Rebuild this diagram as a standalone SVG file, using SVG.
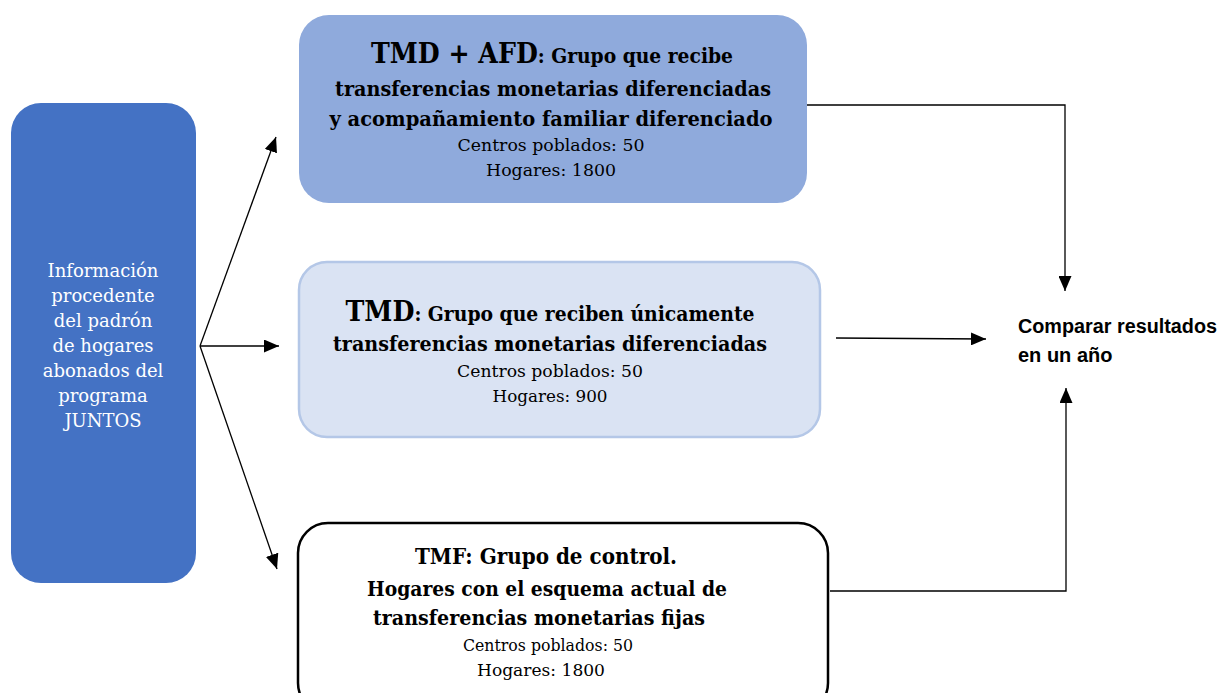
<svg xmlns="http://www.w3.org/2000/svg" width="1230" height="693" viewBox="0 0 1230 693">
<defs>
<marker id="ah" markerWidth="15" markerHeight="13" refX="15" refY="6.5" orient="auto" markerUnits="userSpaceOnUse">
<path d="M0,0 L15,6.5 L0,13 Z" fill="#000"/>
</marker>
<style>
.ser{font-family:"DejaVu Serif","Liberation Serif",serif;text-anchor:middle;fill:#000}
.b{font-weight:bold}
.big{font-size:27px}
.mid{font-size:20px}
.sm{font-size:17.5px}
.left{font-size:18px;fill:#fff}
.conn{fill:none;stroke:#000;stroke-width:1.3}
.cmp{font-family:"Liberation Sans","Open Sans",sans-serif;font-weight:bold;font-size:20px;fill:#000}
</style>
</defs>
<rect width="1230" height="693" fill="#fff"/>
<g id="source">
<rect x="11" y="103" width="185" height="480" rx="30" fill="#4472C4"/>
<text class="ser left" x="103" y="277">Información</text>
<text class="ser left" x="103" y="302">procedente</text>
<text class="ser left" x="103" y="327">del padrón</text>
<text class="ser left" x="103" y="352">de hogares</text>
<text class="ser left" x="103" y="377">abonados del</text>
<text class="ser left" x="103" y="402">programa</text>
<text class="ser left" x="103" y="427">JUNTOS</text>
</g>
<g id="tmd_afd">
<rect x="299" y="15" width="508" height="188" rx="30" fill="#8FAADC"/>
<text class="ser b" x="552" y="63" textLength="362" lengthAdjust="spacingAndGlyphs"><tspan class="big">TMD + AFD</tspan><tspan class="mid">: Grupo que recibe</tspan></text>
<text class="ser b mid" x="553" y="96" textLength="436" lengthAdjust="spacingAndGlyphs">transferencias monetarias diferenciadas</text>
<text class="ser b mid" x="551" y="126" textLength="443" lengthAdjust="spacingAndGlyphs">y acompañamiento familiar diferenciado</text>
<text class="ser sm" x="551" y="151" textLength="187" lengthAdjust="spacingAndGlyphs">Centros poblados: 50</text>
<text class="ser sm" x="551" y="176" textLength="130" lengthAdjust="spacingAndGlyphs">Hogares: 1800</text>
</g>
<g id="tmd">
<rect x="299" y="262" width="521" height="175" rx="28" fill="#DAE3F3" stroke="#B4C7E7" stroke-width="2.5"/>
<text class="ser b" x="550" y="321" textLength="409" lengthAdjust="spacingAndGlyphs"><tspan class="big">TMD</tspan><tspan class="mid">: Grupo que reciben únicamente</tspan></text>
<text class="ser b mid" x="550" y="351" textLength="434" lengthAdjust="spacingAndGlyphs">transferencias monetarias diferenciadas</text>
<text class="ser sm" x="550" y="377" textLength="186" lengthAdjust="spacingAndGlyphs">Centros poblados: 50</text>
<text class="ser sm" x="550" y="402" textLength="115" lengthAdjust="spacingAndGlyphs">Hogares: 900</text>
</g>
<g id="tmf">
<rect x="298" y="523" width="530" height="190" rx="30" fill="#fff" stroke="#000" stroke-width="2.5"/>
<text class="ser b" x="546" y="564" style="font-size:23px" textLength="262" lengthAdjust="spacingAndGlyphs">TMF: Grupo de control.</text>
<text class="ser b mid" x="547" y="596" textLength="360" lengthAdjust="spacingAndGlyphs">Hogares con el esquema actual de</text>
<text class="ser b mid" x="539" y="625" textLength="332" lengthAdjust="spacingAndGlyphs">transferencias monetarias fijas</text>
<text class="ser sm" x="548" y="651" textLength="170" lengthAdjust="spacingAndGlyphs">Centros poblados: 50</text>
<text class="ser sm" x="541" y="676" textLength="128" lengthAdjust="spacingAndGlyphs">Hogares: 1800</text>
</g>
<g id="compare">
<text class="cmp" x="1018" y="333" textLength="199" lengthAdjust="spacingAndGlyphs">Comparar resultados</text>
<text class="cmp" x="1018" y="362">en un año</text>
</g>
<g id="connectors">
<path class="conn" d="M200,346 L276,137" marker-end="url(#ah)"/>
<path class="conn" d="M200,346 L279,346" marker-end="url(#ah)"/>
<path class="conn" d="M200,346 L277,569" marker-end="url(#ah)"/>
<path class="conn" d="M807,105 L1065,105 L1065,291" marker-end="url(#ah)"/>
<path class="conn" d="M836,338 L986,339" marker-end="url(#ah)"/>
<path class="conn" d="M830,591 L1066,591 L1066,388" marker-end="url(#ah)"/>
</g>
</svg>
